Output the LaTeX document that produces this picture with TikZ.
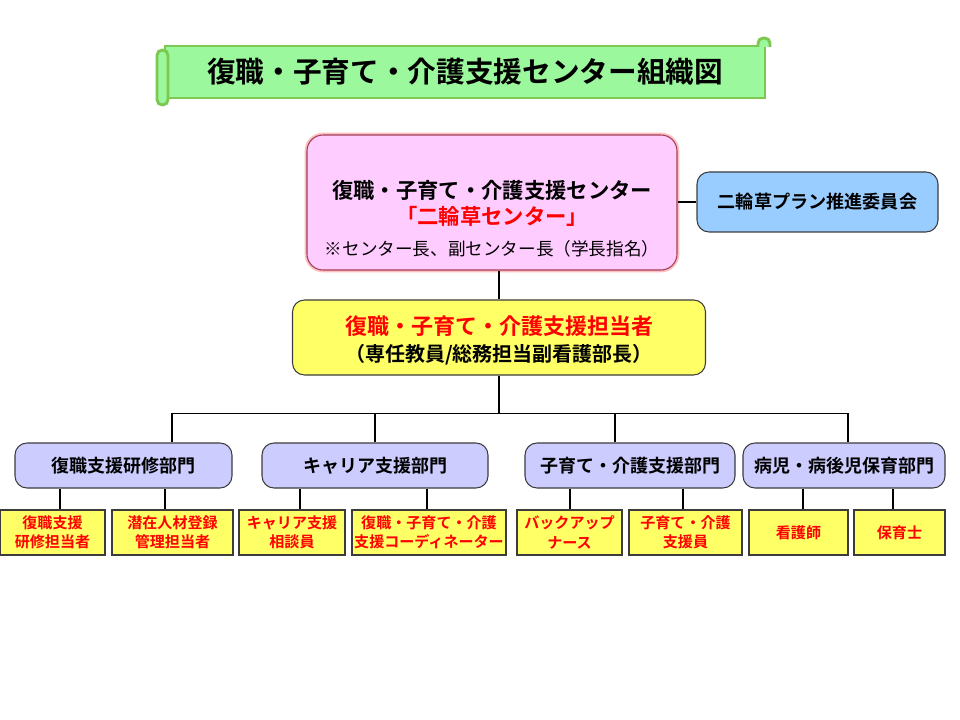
\documentclass[tikz,border=0pt]{standalone}
\usepackage{fontspec}
\setmainfont{Noto Sans CJK JP}[BoldFont={Noto Sans CJK JP Bold}]
\usetikzlibrary{positioning, calc}
\definecolor{scrollgreen}{HTML}{9CF89C}
\definecolor{scrolledge}{HTML}{7CC850}
\definecolor{centerpink}{HTML}{FFCCFF}
\definecolor{pinkedge}{HTML}{A0405A}
\definecolor{boardblue}{HTML}{99CCFF}
\definecolor{leadyellow}{HTML}{FFFF66}
\definecolor{deptlilac}{HTML}{CCCCFF}
\definecolor{staffred}{HTML}{FF0000}
\definecolor{boxedge}{HTML}{3C3C3C}
\tikzset{
  conn/.style={line width=1pt, black},
  scroll/.style={draw=scrolledge, fill=scrollgreen, line width=2.2pt},
  roundbox/.style={rectangle, rounded corners=9pt, draw=boxedge, line width=0.8pt, align=center, inner sep=0pt},
  dept/.style={roundbox, fill=deptlilac, minimum height=33.75pt, font=\fontsize{13.5pt}{16pt}\selectfont\bfseries},
  staff/.style={rectangle, draw=boxedge, line width=1.4pt, fill=leadyellow, minimum height=33.75pt, align=center, inner sep=0pt, text=staffred, font=\fontsize{11.3pt}{14.5pt}\selectfont\bfseries},
}

\begin{document}
\begin{tikzpicture}[x=0.75pt, y=-0.75pt,
    centre/.style={roundbox, rounded corners=12pt, draw=pinkedge, fill=centerpink, minimum width=277.5pt, minimum height=101.25pt, preaction={draw=red!25, line width=3.5pt}},
    board/.style={roundbox, fill=boardblue, minimum width=180.75pt, minimum height=45pt, font=\fontsize{13.6pt}{16pt}\selectfont\bfseries},
    lead/.style={roundbox, fill=leadyellow, minimum width=309.75pt, minimum height=56.25pt}]
  \useasboundingbox (0,0) rectangle (960,720);

  % Title scroll
  \node[scroll, rectangle, minimum width=450pt, minimum height=39pt, inner sep=0pt,
        font=\fontsize{21.5pt}{24pt}\selectfont\bfseries] (title) at (465,72) {復職・子育て・介護支援センター組織図};
  \draw[scroll, rounded corners=4pt] (758,47) -- (758,38) -- (770,38) -- (770,47);
  \draw[scroll, rounded corners=4pt] (157,50) rectangle (168,105);

  % Centre and committee
  \node[centre] (center) at (492,202.5) {};
  \node[align=center, inner sep=0pt] (centertext) at (492,219)
    {{\fontsize{16pt}{20pt}\selectfont\bfseries 復職・子育て・介護支援センター}\\[3.5pt]
     {\fontsize{16pt}{20pt}\selectfont\bfseries\color{staffred}「二輪草センター」}\\[9.5pt]
     {\fontsize{13.2pt}{16pt}\selectfont ※センター長、副センター長（学長指名）}};
  \node[board] (board) at (817.5,202) {二輪草プラン推進委員会};
  \draw[conn] (center.east |- board.west) -- (board.west);

  % Person in charge
  \node[lead] (lead) at (499,337.5) {};
  \node[align=center, inner sep=0pt] (leadtext) at (499,340)
    {{\fontsize{16.5pt}{20pt}\selectfont\bfseries\color{staffred}復職・子育て・介護支援担当者}\\[4.75pt]
     {\fontsize{15pt}{18pt}\selectfont\bfseries （専任教員/総務担当副看護部長）}};
  \draw[conn] (lead.north) -- (lead.north |- center.south);

  % Departments
  \node[dept, minimum width=162.75pt] (d1) at (123.5,465.5) {復職支援研修部門};
  \node[dept, minimum width=169.5pt] (d2) at (375,465.5) {キャリア支援部門};
  \node[dept, minimum width=157.5pt] (d3) at (630,465.5) {子育て・介護支援部門};
  \node[dept, minimum width=151.5pt] (d4) at (844,465.5) {病児・病後児保育部門};
  \coordinate (t1) at ([xshift=36.4pt]d1.north);
  \coordinate (t2) at (d2.north);
  \coordinate (t3) at ([xshift=-11.2pt]d3.north);
  \coordinate (t4) at ([xshift=3pt]d4.north);
  \coordinate (bus) at ($(lead.south)+(0,38)$);
  \draw[conn] (lead.south) -- (bus);
  \draw[conn] (t1) |- (bus -| t4) -- (t4);
  \draw[conn] (t2) -- (t2 |- bus);
  \draw[conn] (t3) -- (t3 |- bus);

  % Staff
  \node[staff, minimum width=78.75pt] (b1) at (52.5,532.5) {復職支援\\研修担当者};
  \node[staff, minimum width=90.75pt] (b2) at (172.5,532.5) {潜在人材登録\\管理担当者};
  \node[staff, minimum width=79.5pt] (b3) at (292,532.5) {キャリア支援\\相談員};
  \node[staff, minimum width=115.5pt] (b4) at (429,532.5) {復職・子育て・介護\\支援コーディネーター};
  \node[staff, minimum width=78.75pt] (b5) at (569.5,532.5) {バックアップ\\ナース};
  \node[staff, minimum width=84.75pt] (b6) at (685.5,532.5) {子育て・介護\\支援員};
  \node[staff, minimum width=74.25pt] (b7) at (798.5,532.5) {看護師};
  \node[staff, minimum width=68.25pt] (b8) at (899.5,532.5) {保育士};
  \foreach \b/\d/\s in {b1/d1/5.6pt, b2/d1/-5.6pt, b3/d2/6pt, b4/d2/-1.5pt,
                        b5/d3/0.3pt, b6/d3/-1.9pt, b7/d4/3.4pt, b8/d4/-4.9pt}
    \draw[conn] ([xshift=\s]\b.north) -- ([xshift=\s]\b.north |- \d.south);
\end{tikzpicture}
\end{document}
